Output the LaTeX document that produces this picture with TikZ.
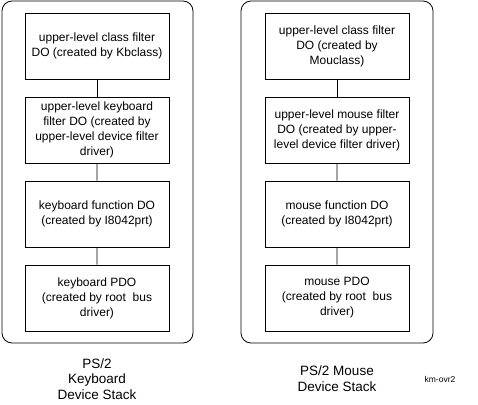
\documentclass[tikz,border=0pt]{standalone}
\usepackage{fontspec}
\setmainfont{Liberation Sans}
\begin{document}
\begin{tikzpicture}[
		x=1pt, y=-1pt,
		line width=0.8pt,
		dobox/.style={draw, rectangle, minimum width=144pt, minimum height=66pt, inner sep=0, align=center, font=\fontsize{12}{15}\selectfont},
		stacklabel/.style={align=center, font=\fontsize{13.5}{15.5}\selectfont},
		grow=down, level distance=84pt,
		edge from parent/.style={draw},
	]
	\useasboundingbox (0,0) rectangle (478,404);
	\draw[rounded corners=10pt] (2,1) rectangle (193,343);
	\draw[rounded corners=10pt] (241,1) rectangle (433,343);
	\node[dobox] (kbdclass) at (97,46) {upper-level class filter\\DO (created by Kbclass)}
		child {node[dobox] (kbdfilter) {upper-level keyboard\\filter DO (created by\\upper-level device filter\\driver)}
			child {node[dobox] (kbdfunc) {keyboard function DO\\(created by I8042prt)}
				child {node[dobox] (kbdpdo) {keyboard PDO\\(created by root\ \ bus\\driver)}
				}
			}
		};
	\node[dobox] (mouclass) at (337,46) {upper-level class filter\\DO (created by\\Mouclass)}
		child {node[dobox] (moufilter) {upper-level mouse filter\\DO (created by upper-\\level device filter driver)}
			child {node[dobox] (moufunc) {mouse function DO\\(created by I8042prt)}
				child {node[dobox] (moupdo) {mouse PDO\\(created by root\ \ bus\\driver)}
				}
			}
		};
	\node[stacklabel] (kbdstack) at (97,379) {PS/2\\Keyboard\\Device Stack};
	\node[stacklabel] (moustack) at (337,378.5) {PS/2 Mouse\\Device Stack};
	\node[font=\fontsize{8.5}{10}\selectfont] (figname) at (440,379) {km-ovr2};
\end{tikzpicture}
\end{document}
